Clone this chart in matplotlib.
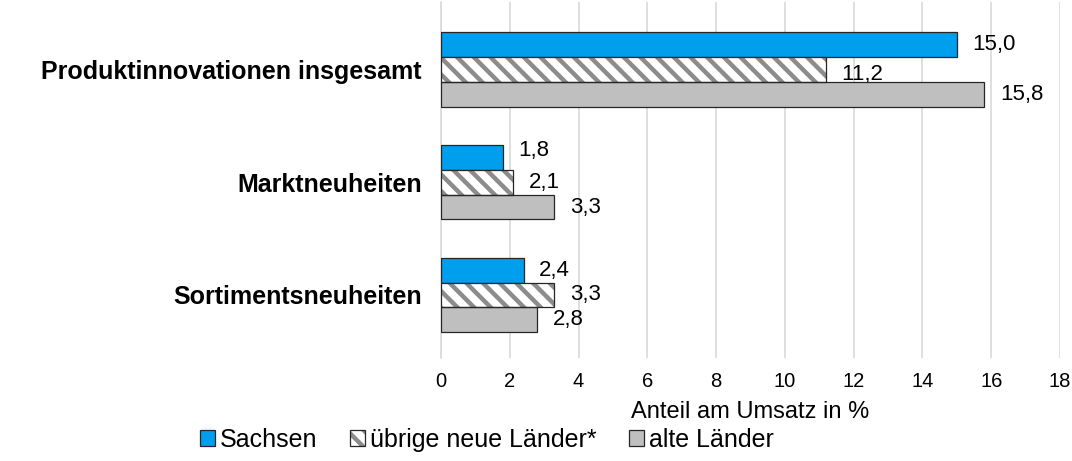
import matplotlib.pyplot as plt
from matplotlib.legend_handler import HandlerTuple
import numpy as np

plt.rcParams['font.family'] = ['Liberation Sans', 'DejaVu Sans']
plt.rcParams['hatch.linewidth'] = 3.2

categories = ["Produktinnovationen insgesamt", "Marktneuheiten", "Sortimentsneuheiten"]
series_names = ["Sachsen", "übrige neue Länder*", "alte Länder"]
sachsen = [15.0, 1.8, 2.4]
uebrige = [11.2, 2.1, 3.3]
alte = [15.8, 3.3, 2.8]

values = [sachsen, uebrige, alte]
colors = ['#009FEE', 'white', '#BFBFBF']

fig = plt.figure(figsize=(10.72, 4.61), dpi=100)
ax = fig.add_axes([441/1072, 1 - 358/461, 619/1072, 356/461])

y = np.arange(len(categories))
h = 0.22
offs = [-h, 0, h]
# small tweaks for label placement (in category units)
label_dy = [[0, -0.06, 0], [0.04, 0, 0], [0, 0, 0]]

handles = []
for i in range(3):
    if i == 1:
        # grey stripes, then dark outline on top
        b1 = ax.barh(y + offs[i], values[i], height=h, color='white', hatch='\\\\',
                     edgecolor='#8C8C8C', linewidth=0, zorder=3)
        b2 = ax.barh(y + offs[i], values[i], height=h, fill=False, edgecolor='#262626',
                     linewidth=0.9, zorder=3.1)
        handles.append((b1, b2))
    else:
        b = ax.barh(y + offs[i], values[i], height=h, color=colors[i],
                    edgecolor='#262626', linewidth=0.9, zorder=3)
        handles.append(b)
    for j, v in enumerate(values[i]):
        ax.text(v + 0.45, y[j] + offs[i] + label_dy[i][j], f"{v:.1f}".replace('.', ','),
                va='center', ha='left', fontsize=16, zorder=2)

ax.set_ylim(2.56, -0.6)
ax.set_xlim(0, 18)
ax.set_xticks(range(0, 19, 2))
ax.set_yticks(y)
ax.set_yticklabels(categories, fontsize=18, fontweight='bold')
ax.tick_params(axis='y', length=0, pad=14)
ax.tick_params(axis='x', length=0, labelsize=14.5, pad=10)
ax.grid(axis='x', color='#D9D9D9', linewidth=1.2, zorder=0)
ax.set_axisbelow(True)
for s in ['top', 'right', 'bottom']:
    ax.spines[s].set_visible(False)
ax.spines['left'].set_color('#D9D9D9')
ax.spines['left'].set_linewidth(1.2)
ax.set_xlabel("Anteil am Umsatz in %", fontsize=17, labelpad=7)

fig.legend(handles, series_names, loc='center left', bbox_to_anchor=(200/1072, 1 - 440/461),
           ncol=3, frameon=False, fontsize=18, handlelength=0.6, handleheight=0.6,
           handletextpad=0.2, columnspacing=1.3, borderpad=0, borderaxespad=0,
           handler_map={tuple: HandlerTuple(ndivide=1, pad=0)})

fig.savefig("out.png", dpi=100)
